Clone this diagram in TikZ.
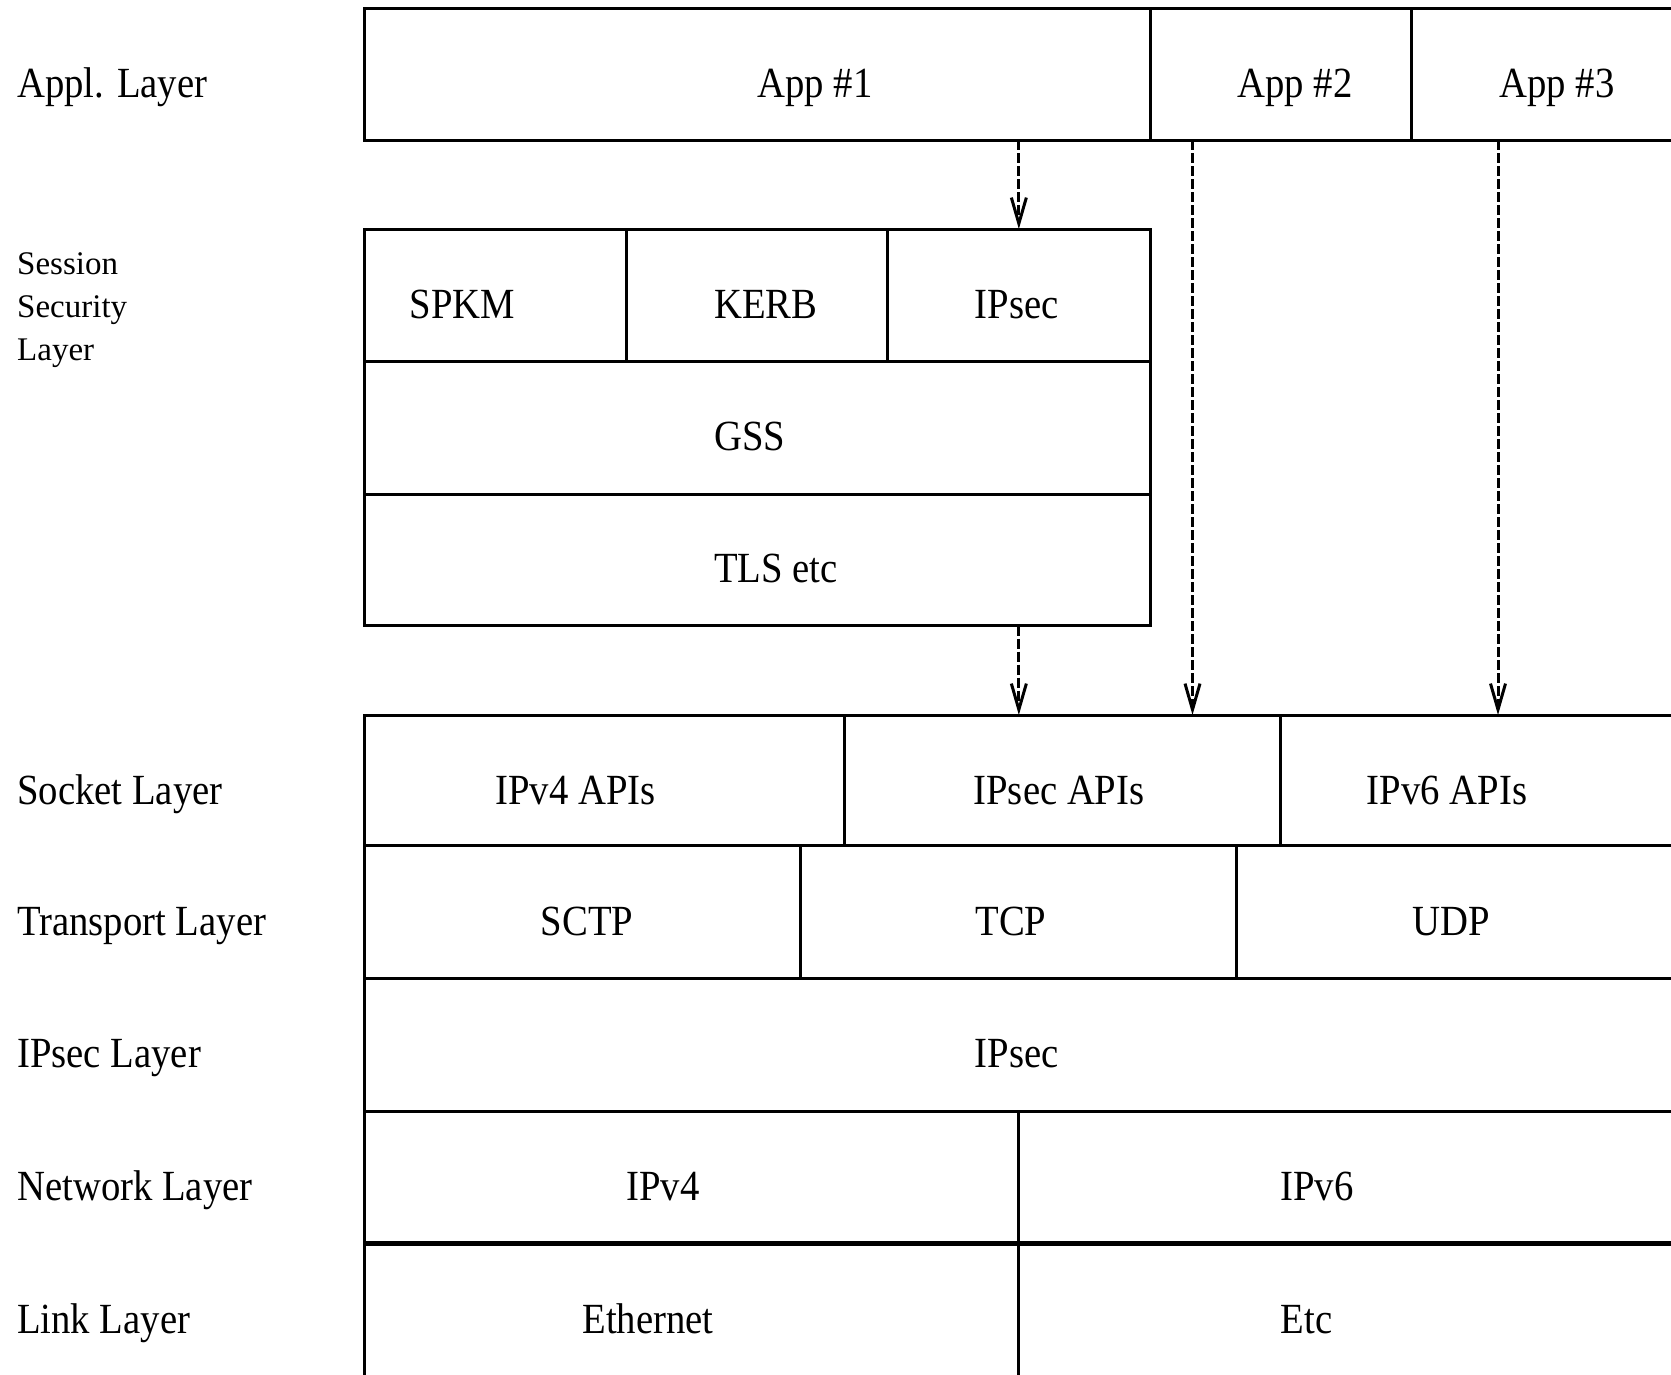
\documentclass[tikz,border=0pt]{standalone}
\usepackage{fontspec}
\setmainfont{Liberation Serif}
\newfontfamily\condfont{Liberation Serif}[FakeStretch=0.9]
\usetikzlibrary{arrows.meta,fit}
\begin{document}
\begin{tikzpicture}[x=1pt,y=-1pt,
  cell/.style={draw,line width=3pt,inner sep=0pt,outer sep=0pt},
  txt/.style={font=\condfont\fontsize{43}{50}\selectfont,inner sep=0pt,anchor=base},
  lbl/.style={txt,anchor=base west},
  small/.style={font=\fontsize{33}{43}\selectfont,inner sep=0pt,anchor=base west},
  arr/.style={line width=3pt,dash pattern=on 10pt off 3pt,
    -{Straight Barb[length=26pt,width=15pt,line width=3pt]}}]
\useasboundingbox (0,0) rectangle (1671,1374);
\clip (0,0) rectangle (1671,1374);
% application layer
\node[cell,fit={(364.5,8.5)(1150,140)}] (app1) {};
\node[cell,fit={(1150,8.5)(1411,140)}] (app2) {};
\node[cell,fit={(1411,8.5)(1720,140)}] (app3) {};
% session security layer
\node[cell,fit={(364.5,229)(626.6,361.3)}] (spkm) {};
\node[cell,fit={(626.6,229)(887.7,361.3)}] (kerb) {};
\node[cell,fit={(887.7,229)(1150,361.3)}] (ipsecs) {};
\node[cell,fit={(364.5,361.3)(1150,494)}] (gss) {};
\node[cell,fit={(364.5,494)(1150,625.7)}] (tls) {};
% socket layer
\node[cell,fit={(364.5,715)(844,845)}] (v4api) {};
\node[cell,fit={(844,715)(1280,845)}] (secapi) {};
\node[cell,fit={(1280,715)(1720,845)}] (v6api) {};
% transport layer
\node[cell,fit={(364.5,845)(800.3,978.3)}] (sctp) {};
\node[cell,fit={(800.3,845)(1236,978.3)}] (tcp) {};
\node[cell,fit={(1236,845)(1720,978.3)}] (udp) {};
% ipsec layer
\node[cell,fit={(364.5,978.3)(1720,1111.5)}] (ipsecl) {};
% network layer
\node[cell,fit={(364.5,1111.5)(1018.8,1243)}] (ipv4) {};
\node[cell,fit={(1018.8,1111.5)(1720,1243)}] (ipv6) {};
% link layer
\node[cell,fit={(364.5,1243)(1018.8,1420)}] (eth) {};
\node[cell,fit={(1018.8,1243)(1720,1420)}] (etc) {};
\draw[line width=5pt] (eth.north west) -- (etc.north east);
% cell texts
\node[txt] (t-app1) at (815,97) {App \#1};
\node[txt] (t-app2) at (1295,97) {App \#2};
\node[txt] (t-app3) at (1557,97) {App \#3};
\node[txt] (t-spkm) at (462.5,318) {SPKM};
\node[txt] (t-kerb) at (766,318) {KERB};
\node[txt] (t-ipsecs) at (1016.7,318) {IPsec};
\node[txt] (t-gss) at (750,450) {GSS};
\node[txt] (t-tls) at (776,582) {TLS etc};
\node[txt] (t-v4api) at (575.5,804) {IPv4 APIs};
\node[txt] (t-secapi) at (1059,804) {IPsec APIs};
\node[txt] (t-v6api) at (1447,804) {IPv6 APIs};
\node[txt] (t-sctp) at (587,935) {SCTP};
\node[txt] (t-tcp) at (1011,935) {TCP};
\node[txt] (t-udp) at (1451.5,935) {UDP};
\node[txt] (t-ipsecl) at (1016.7,1067) {IPsec};
\node[txt] (t-ipv4) at (663,1200) {IPv4};
\node[txt] (t-ipv6) at (1317,1200) {IPv6};
\node[txt] (t-eth) at (648,1333.5) {Ethernet};
\node[txt] (t-etc) at (1306.5,1333.5) {Etc};
% layer labels
\node[lbl] (l-appl) at (17,97) {Appl. Layer};
\node[small] (l-ses1) at (17,274) {Session};
\node[small] (l-ses2) at (17,317) {Security};
\node[small] (l-ses3) at (17,360) {Layer};
\node[lbl] (l-sock) at (17,804) {Socket Layer};
\node[lbl] (l-trans) at (17,935) {Transport Layer};
\node[lbl] (l-ipsec) at (17,1067) {IPsec Layer};
\node[lbl] (l-net) at (17,1200) {Network Layer};
\node[lbl] (l-link) at (17,1333.5) {Link Layer};
% connectors
\coordinate (c2) at (1192.5,0);
\coordinate (c3) at (1498,0);
\draw[arr] (app1.south -| ipsecs.north) -- (ipsecs.north);
\draw[arr] (tls.south -| ipsecs.north) -- (secapi.north -| ipsecs.north);
\draw[arr] (app2.south -| c2) -- (secapi.north -| c2);
\draw[arr] (app3.south -| c3) -- (v6api.north -| c3);
\end{tikzpicture}
\end{document}
